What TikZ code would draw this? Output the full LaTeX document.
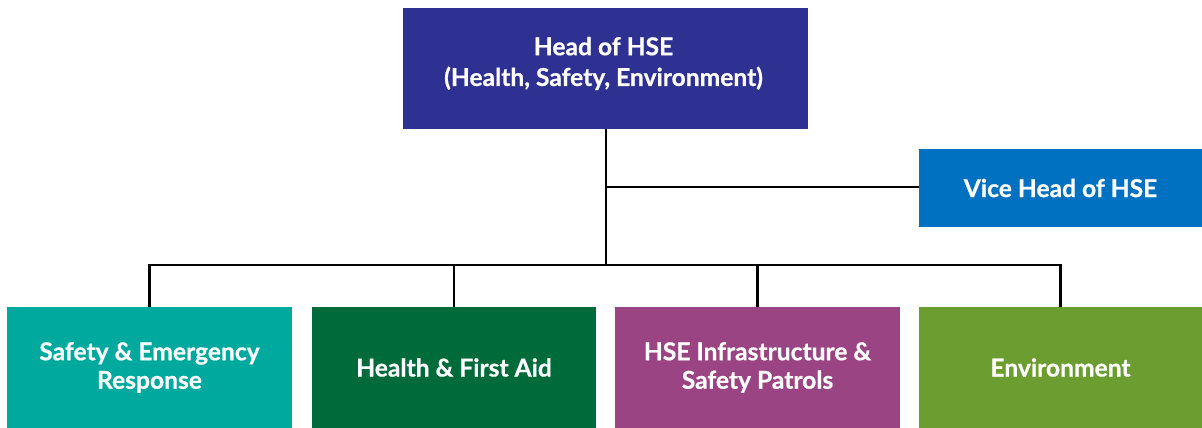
\documentclass[tikz,border=0pt]{standalone}
\usepackage{fontspec}
\setmainfont{Lato}[BoldFont={Lato Bold}, BoldFeatures={FakeBold=0.6}]
\definecolor{headblue}{HTML}{2E3192}
\definecolor{viceblue}{HTML}{0070C0}
\definecolor{teal}{HTML}{00A99D}
\definecolor{darkgreen}{HTML}{006B3A}
\definecolor{plum}{HTML}{9B4483}
\definecolor{olive}{HTML}{6C9D31}
\tikzset{
  boxfont/.style={font=\fontsize{24.6}{28.5}\selectfont\bfseries},
  box/.style={rectangle, inner sep=0pt, text=white, align=center, boxfont},
  link/.style={draw=black, line width=2.5pt}
}
\begin{document}
\begin{tikzpicture}[x=1pt,y=-1pt]
\useasboundingbox (0,0) rectangle (1202,428);
\node[box, fill=headblue, minimum width=405pt, minimum height=121pt] (head) at (605.5,68.5) {};
\node[font=\fontsize{24.6}{30.7}\selectfont\bfseries, text=white, align=center] (headtxt) at (603.5,63.5) {Head of HSE\\(Health, Safety, Environment)};
\node[box, fill=viceblue, minimum width=283pt, minimum height=78pt] (vice) at (1060.5,188) {Vice Head of HSE};
\node[box, fill=teal, minimum width=285pt, minimum height=121pt] (b1) at (149.5,367.5) {Safety \& Emergency\\Response};
\node[box, fill=darkgreen, minimum width=284pt, minimum height=121pt] (b2) at (454,367.5) {Health \& First Aid};
\node[box, fill=plum, minimum width=285pt, minimum height=121pt] (b3) at (757.5,367.5) {HSE Infrastructure \&\\Safety Patrols};
\node[box, fill=olive, minimum width=283pt, minimum height=121pt] (b4) at (1060.5,367.5) {Environment};
\coordinate (bus) at (606,265);
\coordinate (vj) at (606,187);
\draw[link] (head.south -| vj) -- (bus);
\draw[link] (vj) -- (vj -| vice.west);
\draw[link] (b1.north) -- (b1.north |- bus) -- (b4.north |- bus) -- (b4.north);
\draw[link] (b2.north) -- (b2.north |- bus);
\draw[link] (b3.north) -- (b3.north |- bus);
\end{tikzpicture}
\end{document}
